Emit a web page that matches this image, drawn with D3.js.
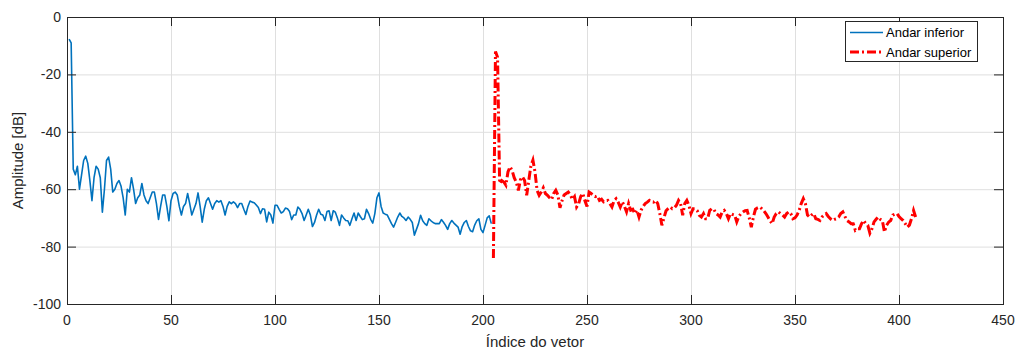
<!DOCTYPE html>
<html>
<head>
<meta charset="utf-8">
<script src="https://cdn.jsdelivr.net/npm/d3@7"></script>
<style>
  body { margin: 0; background: #fff; }
  svg { display: block; font-family: "Liberation Sans", Arial, sans-serif; }
</style>
</head>
<body>
<svg width="1022" height="354"></svg>
<script>
// Series data: index 1..204 (lower) and 205..408 (upper)
const lowerStart = 1;
const lowerValues = [
  -7.7, -9, -53, -55, -52, -60, -55, -50, -48.5, -51,
  -57, -64, -56, -52, -53, -56, -68, -60, -50, -48.8,
  -53, -61, -60, -58, -57, -59, -63, -69, -60, -61,
  -56, -60, -65, -63, -62, -58, -62, -64, -65, -63,
  -61, -61, -65, -70.5, -66, -62, -62, -66, -71, -64,
  -61.5, -61, -62, -66, -69, -66, -65, -61.5, -65, -69,
  -67, -65, -61.3, -66, -71.5, -67, -64, -63, -65, -67,
  -65, -64, -64.5, -64, -66, -69, -66, -64.4, -65, -64.4,
  -65, -66.4, -65, -65, -67, -68.8, -66, -64.1, -64.5, -64.7,
  -65.5, -66.4, -68.5, -66.8, -67, -71.4, -68, -69, -71.8, -65.6,
  -65.6, -67, -68.3, -67.8, -66.6, -66.8, -67.8, -70.6, -69, -69,
  -66.2, -67, -68.5, -70.9, -69, -67, -69, -73, -71.6, -69,
  -67, -68.7, -69, -70.9, -67.8, -67.5, -70.9, -67.5, -68, -70,
  -72.6, -69, -70, -70.9, -71, -72.6, -70.3, -68.3, -70.9, -68.3,
  -69.5, -70.6, -70.3, -67, -68.5, -70.5, -71.8, -68.5, -63, -61.3,
  -66, -68.3, -68.7, -69, -70.5, -72, -73.2, -71.5, -69.7, -68.3,
  -69.5, -70, -70.9, -69.7, -70.5, -71.6, -76, -74, -72, -69.1,
  -71, -72, -72.6, -70.3, -71, -71.6, -72, -72, -72, -70.6,
  -71.5, -72.6, -74, -72, -70.9, -71.8, -72.5, -73.2, -75.7, -73,
  -71.6, -70.9, -73, -74.5, -74.8, -72.5, -71, -70.3, -74, -75.1,
  -72.6, -70, -69.3, -72
];
const upperStart = 205;
const upperValues = [
  -84, -12, -14, -58, -57, -57.5, -58.6, -54, -52.2, -53.5,
  -56, -57.5, -60.4, -56.7, -55.7, -57, -62.1, -57, -52, -49.9,
  -54, -60.4, -62.1, -61, -59.5, -61.5, -62.1, -63, -63.6, -61.5,
  -60.4, -62, -66.5, -64, -62, -61.5, -61, -62, -63.6, -62.6,
  -66.2, -65, -62.5, -61.5, -64, -66, -61, -61.5, -62.1, -62.6,
  -62.3, -63.9, -63.5, -64.4, -64, -63.9, -65, -66.2, -64, -63.3,
  -64.5, -66.2, -64.4, -66, -67.9, -65, -67.3, -67, -68.5, -67.3,
  -69.7, -67.3, -66, -65, -64.5, -63.9, -64.4, -64.5, -63.9, -65,
  -68.5, -72.6, -70, -67.5, -66.8, -66.2, -66.8, -66.5, -65.6, -63.9,
  -65, -69.1, -65, -63.9, -65.6, -68.5, -66.8, -66.8, -67.5, -69.1,
  -69.7, -68.5, -70.3, -70.3, -67.4, -66.8, -67, -68.5, -69, -69.7,
  -67.9, -67.4, -68.5, -70.3, -68.5, -68.8, -69, -71.4, -69.5, -68.5,
  -67.9, -67.5, -67.4, -70, -73.2, -69.7, -67, -66.5, -66.2, -66.8,
  -67.5, -68.5, -69.7, -71, -72, -69.7, -68.5, -67.9, -68.5, -69,
  -69.7, -68.5, -67.9, -68.5, -70.3, -70, -69, -67.4, -65, -63.3,
  -65, -69, -69.7, -69, -68.5, -70.3, -70.5, -70.9, -69.7, -69,
  -68.5, -69.5, -70.3, -70.9, -70.5, -70.3, -69.7, -68.5, -67.9, -69.5,
  -70.9, -71.4, -72, -72, -74.3, -73.8, -73.8, -72, -70.9, -72,
  -72.6, -75.3, -73.8, -71.4, -70.5, -69.7, -70.5, -70.9, -74.9, -72.6,
  -71.5, -70.9, -69, -68.7, -68.5, -69.5, -70.3, -70.9, -72, -73.2,
  -72.5, -70.3, -67.4, -69.7
];
const seriesNames = ["Andar inferior", "Andar superior"];
const xTicks = [0, 50, 100, 150, 200, 250, 300, 350, 400, 450];
const yTicks = [-100, -80, -60, -40, -20, 0];

const svg = d3.select("svg");
const plotLeft = 67, plotRight = 1003, plotTop = 17, plotBottom = 304;
const axisColor = "#262626";
const gridColor = "#dfdfdf";
const tickLen = 9;

const x = d3.scaleLinear().domain([0, 450]).range([plotLeft, plotRight]);
const y = d3.scaleLinear().domain([-100, 0]).range([plotBottom, plotTop]);

// grid
const grid = svg.append("g");
grid.selectAll(".gx").data(xTicks).enter().append("line")
  .attr("x1", d => x(d) + 0.5).attr("x2", d => x(d) + 0.5)
  .attr("y1", plotTop).attr("y2", plotBottom)
  .attr("stroke", gridColor).attr("stroke-width", 1);
grid.selectAll(".gy").data(yTicks).enter().append("line")
  .attr("x1", plotLeft).attr("x2", plotRight)
  .attr("y1", d => y(d) + 0.5).attr("y2", d => y(d) + 0.5)
  .attr("stroke", gridColor).attr("stroke-width", 1);

// lines
const lowerData = lowerValues.map((v, i) => [lowerStart + i, v]);
const upperData = upperValues.map((v, i) => [upperStart + i, v]);
const line = d3.line().x(d => x(d[0])).y(d => y(d[1]));

svg.append("path").datum(lowerData)
  .attr("d", line).attr("fill", "none")
  .attr("stroke", "#0072BD").attr("stroke-width", 1.6)
  .attr("stroke-linejoin", "round");
svg.append("path").datum(upperData)
  .attr("d", line).attr("fill", "none")
  .attr("stroke", "#FF0000").attr("stroke-width", 3)
  .attr("stroke-dasharray", "9,3,2,3");

// box + ticks
svg.append("rect")
  .attr("x", plotLeft + 0.5).attr("y", plotTop + 0.5)
  .attr("width", plotRight - plotLeft).attr("height", plotBottom - plotTop)
  .attr("fill", "none").attr("stroke", axisColor).attr("stroke-width", 1);

const ticks = svg.append("g").attr("stroke", axisColor).attr("stroke-width", 1);
xTicks.forEach(t => {
  const px = x(t) + 0.5;
  ticks.append("line").attr("x1", px).attr("x2", px).attr("y1", plotBottom).attr("y2", plotBottom - tickLen);
  ticks.append("line").attr("x1", px).attr("x2", px).attr("y1", plotTop).attr("y2", plotTop + tickLen);
});
yTicks.forEach(t => {
  const py = y(t) + 0.5;
  ticks.append("line").attr("x1", plotLeft).attr("x2", plotLeft + tickLen).attr("y1", py).attr("y2", py);
  ticks.append("line").attr("x1", plotRight).attr("x2", plotRight - tickLen).attr("y1", py).attr("y2", py);
});

// tick labels
svg.append("g").selectAll("text").data(xTicks).enter().append("text")
  .attr("x", d => x(d)).attr("y", plotBottom + 21)
  .attr("text-anchor", "middle").attr("font-size", 14).attr("fill", axisColor)
  .text(d => d);
svg.append("g").selectAll("text").data(yTicks).enter().append("text")
  .attr("x", plotLeft - 6).attr("y", d => y(d) + 5)
  .attr("text-anchor", "end").attr("font-size", 14).attr("fill", axisColor)
  .text(d => d);

// axis titles
svg.append("text").attr("x", (plotLeft + plotRight) / 2).attr("y", 347)
  .attr("text-anchor", "middle").attr("font-size", 15).attr("fill", axisColor)
  .text("Índice do vetor");
svg.append("text").attr("transform", `translate(23,${(plotTop + plotBottom) / 2}) rotate(-90)`)
  .attr("text-anchor", "middle").attr("font-size", 15).attr("fill", axisColor)
  .text("Amplitude [dB]");

// legend
const lg = svg.append("g");
lg.append("rect").attr("x", 845.5).attr("y", 21.5).attr("width", 132).attr("height", 40)
  .attr("fill", "#fff").attr("stroke", axisColor).attr("stroke-width", 1);
const legendStyles = [
  { color: "#0072BD", width: 1.6, dash: null },
  { color: "#FF0000", width: 3, dash: "9,3,2,3" }
];
seriesNames.forEach((name, i) => {
  const ly = 32.5 + i * 19.5;
  const s = legendStyles[i];
  lg.append("line").attr("x1", 850).attr("x2", 883).attr("y1", ly).attr("y2", ly)
    .attr("stroke", s.color).attr("stroke-width", s.width)
    .attr("stroke-dasharray", s.dash);
  lg.append("text").attr("x", 886).attr("y", ly + 4.5)
    .attr("font-size", 13).attr("fill", "#000").text(name);
});
</script>
</body>
</html>
